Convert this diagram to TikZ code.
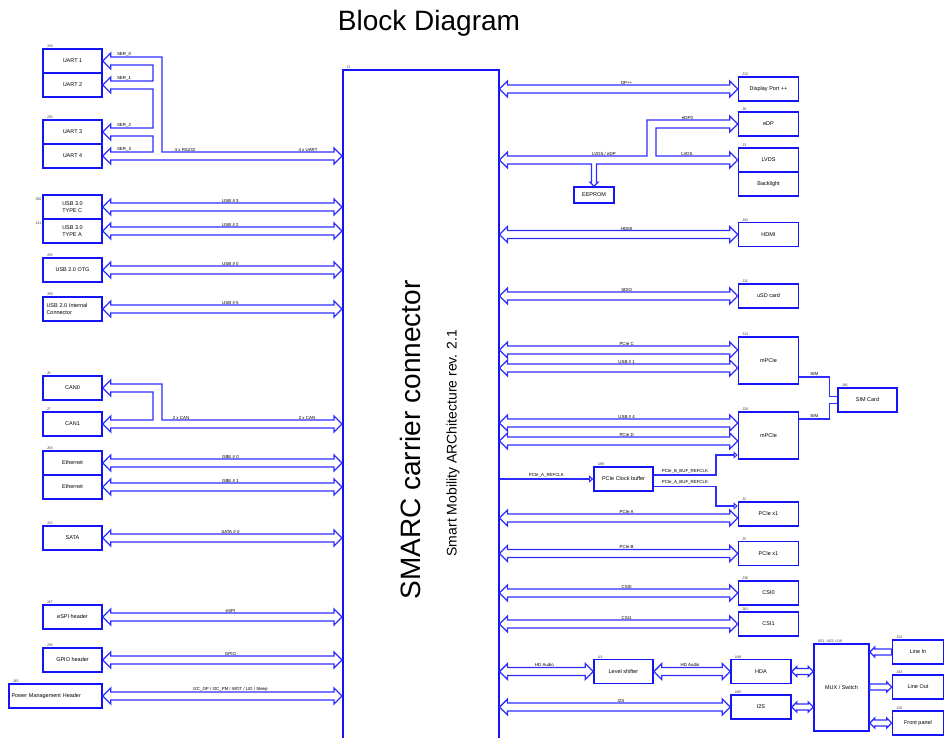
\documentclass[tikz,border=0pt]{standalone}
\usepackage{fontspec}
\setmainfont{Liberation Sans}
\usepackage{tikz}
\usetikzlibrary{arrows.meta,calc}

\definecolor{boxblue}{RGB}{20,20,245}
\definecolor{busblue}{RGB}{45,45,255}

% hollow bus arrows (picture uses x=1pt, y=-1pt)
\newcommand{\dbus}[4][8pt]{%
  \coordinate (bl) at (#2); \coordinate (br) at (#3);
  \draw[busline] (bl) -- ++(8,-8) -- ++(0,4) -- ($(br)+(-8,-4)$) -- ++(0,-4) -- (br)
    -- ++(-8,8) -- ++(0,-4) -- ($(bl)+(8,4)$) -- ++(0,4) -- cycle;
  \path (bl) -- (br) node[buslabel, midway, above=4pt, xshift=#1] {#4};}
\newcommand{\sbus}[2]{%
  \coordinate (bl) at (#1); \coordinate (br) at (#2);
  \draw[busline] (bl) -- ++(5,-5) -- ++(0,2) -- ($(br)+(-5,-3)$) -- ++(0,-2) -- (br)
    -- ++(-5,5) -- ++(0,-2) -- ($(bl)+(5,3)$) -- ++(0,2) -- cycle;}
\newcommand{\sbusl}[2]{%
  \coordinate (bl) at (#1); \coordinate (br) at (#2);
  \draw[busline] (bl) -- ++(5,-5) -- ++(0,2) -- ($(br)+(0,-3)$) -- ++(0,6)
    -- ($(bl)+(5,3)$) -- ++(0,2) -- cycle;}
\newcommand{\sbusr}[2]{%
  \coordinate (bl) at (#1); \coordinate (br) at (#2);
  \draw[busline] ($(bl)+(0,-3)$) -- ($(br)+(-5,-3)$) -- ++(0,-2) -- (br)
    -- ++(-5,5) -- ++(0,-2) -- ($(bl)+(0,3)$) -- cycle;}

\begin{document}
\begin{tikzpicture}[
  x=1pt, y=-1pt,
  box/.style={draw=boxblue, line width=1.7pt, minimum width=59pt, minimum height=24pt, align=center, inner sep=1pt, font=\fontsize{5.5}{6.6}\selectfont},
  rbox/.style={box, minimum width=60pt},
  desfont/.style={font=\fontsize{3.7}{4.2}\selectfont, text=black!75},
  des/.style={label={[desfont, anchor=south west, xshift=4pt, inner sep=0.4pt]north west:#1}},
  desl/.style={label={[desfont, anchor=north east, yshift=-3.5pt, inner sep=0.4pt]north west:#1}},
  busline/.style={draw=busblue, line width=1.25pt, line join=miter},
  buslabel/.style={font=\fontsize{4.4}{5}\selectfont, inner sep=0.3pt},
  wire/.style={draw=busblue, line width=1.2pt},
  clk/.style={wire, -{Triangle[open, length=4pt, width=7pt]}}
]
\useasboundingbox (0,0) rectangle (944,738);
\node[font=\fontsize{28}{32}\selectfont, anchor=base] (title) at (429,31) {Block Diagram};

\node[draw=boxblue, line width=1.6pt, minimum width=156pt, minimum height=700pt, inner sep=0pt, anchor=north west, des=J1] (smarc) at (342,69) {};
\node[rotate=90, font=\fontsize{28}{32}\selectfont] (smarctitle) at (410,440) {SMARC carrier connector};
\node[rotate=90, font=\fontsize{14}{16}\selectfont] (smarcsub) at (453,443) {Smart Mobility ARChitecture rev. 2.1};

\node[box, des=J29] (uart1) at (72.5,61) {UART 1};
\node[box] (uart2) at (72.5,85) {UART 2};
\node[box, des=J30] (uart3) at (72.5,132) {UART 3};
\node[box] (uart4) at (72.5,156) {UART 4};
\node[box, align=left, desl=J56] (usbc) at (72.5,207) {USB 3.0\\TYPE C};
\node[box, align=left, desl=J41] (usba) at (72.5,231) {USB 3.0\\TYPE A};
\node[box, des=J50] (otg) at (72.5,270) {USB 2.0 OTG};
\node[box, align=left, text width=52pt, des=J59] (usbint) at (72.5,309) {USB 2.0 Internal\\Connector};
\node[box, des=J6] (can0) at (72.5,388) {CAN0};
\node[box, des=J7] (can1) at (72.5,424) {CAN1};
\node[box, des=J63] (eth0) at (72.5,463) {Ethernet};
\node[box] (eth1) at (72.5,487) {Ethernet};
\node[box, des=J22] (sata) at (72.5,538) {SATA};
\node[box, des=J47] (espi) at (72.5,617) {eSPI header};
\node[box, des=J38] (gpio) at (72.5,660) {GPIO header};
\node[box, minimum width=93pt, text width=88pt, align=left, des=J45] (pmh) at (55.5,696) {Power Management Header};

\node[rbox, des=J12] (dp) at (768.5,89) {Display Port ++};
\node[rbox, des=J8] (edp) at (768.5,124) {eDP};
\node[rbox, des=J3] (lvds) at (768.5,160) {LVDS};
\node[rbox] (backlight) at (768.5,184) {Backlight};
\node[box, minimum width=40pt, minimum height=16pt, line width=1.3pt] (eeprom) at (594,195) {EEPROM};
\node[rbox, des=J42] (hdmi) at (768.5,234.5) {HDMI};
\node[rbox, des=J11] (usd) at (768.5,296) {uSD card};
\node[rbox, minimum height=47pt, des=J13] (mpcie1) at (768.5,360.5) {mPCIe};
\node[rbox, minimum height=47pt, des=J26] (mpcie2) at (768.5,435.5) {mPCIe};
\node[box, des=J46] (sim) at (867.5,400) {SIM Card};
\node[box, des=U85] (clkbuf) at (623.5,479) {PCIe Clock buffer};
\node[rbox, des=J2] (pcie1) at (768.5,514) {PCIe x1};
\node[rbox, des=J5] (pcie2) at (768.5,553.5) {PCIe x1};
\node[rbox, des=J36] (csi0) at (768.5,593) {CSI0};
\node[rbox, des=J61] (csi1) at (768.5,624) {CSI1};
\node[box, des=U1] (lvlshift) at (623.5,671.5) {Level shifter};
\node[rbox, des=U48] (hda) at (761,671.5) {HDA};
\node[rbox, des=U60] (i2s) at (761,707) {I2S};
\node[box, minimum width=55pt, minimum height=87pt, des={U51, U52, U18}] (mux) at (841.5,687.5) {MUX / Switch};
\node[box, minimum width=51pt, des=J24] (linein) at (918,652) {Line In};
\node[box, minimum width=51pt, des=J43] (lineout) at (918,687) {Line Out};
\node[box, minimum width=51pt, des=J10] (front) at (918,723) {Front panel};

\draw[busline] (smarc.west |- uart4.east) -- ++(-8,-8) -- ++(0,4) -| (162,57)
  -- ($(uart1.east)+(8,-4)$) -- ++(0,-4) -- (uart1.east) -- ++(8,8) -- ++(0,-4) -| (153,81)
  -- ($(uart2.east)+(8,-4)$) -- ++(0,-4) -- (uart2.east) -- ++(8,8) -- ++(0,-4) -| (153,128)
  -- ($(uart3.east)+(8,-4)$) -- ++(0,-4) -- (uart3.east) -- ++(8,8) -- ++(0,-4) -| (153,152)
  -- ($(uart4.east)+(8,-4)$) -- ++(0,-4) -- (uart4.east) -- ++(8,8) -- ++(0,-4)
  -- ($(smarc.west |- uart4.east)+(-8,4)$) -- ++(0,4) -- cycle;
\node[buslabel, anchor=south] (ser0) at (124,56.7) {SER\_0};
\node[buslabel, anchor=south] (ser1) at (124,80.7) {SER\_1};
\node[buslabel, anchor=south] (ser2) at (124,127.7) {SER\_2};
\node[buslabel, anchor=south] (ser3) at (124,151.7) {SER\_3};
\node[buslabel, anchor=south] (rs232) at (185,151.7) {4 x RS232};
\node[buslabel, anchor=south] (uartx) at (308,151.7) {4 x UART};

\dbus{usbc.east}{smarc.west |- usbc.east}{USB \# 3}
\dbus{usba.east}{smarc.west |- usba.east}{USB \# 2}
\dbus{otg.east}{smarc.west |- otg.east}{USB \# 0}
\dbus{usbint.east}{smarc.west |- usbint.east}{USB \# 5}

\draw[busline] (smarc.west |- can1.east) -- ++(-8,-8) -- ++(0,4) -| (162,384)
  -- ($(can0.east)+(8,-4)$) -- ++(0,-4) -- (can0.east) -- ++(8,8) -- ++(0,-4) -| (153,420)
  -- ($(can1.east)+(8,-4)$) -- ++(0,-4) -- (can1.east) -- ++(8,8) -- ++(0,-4)
  -- ($(smarc.west |- can1.east)+(-8,4)$) -- ++(0,4) -- cycle;
\node[buslabel, anchor=south] (canl) at (181,419.7) {2 x CAN};
\node[buslabel, anchor=south] (canr) at (307,419.7) {2 x CAN};

\dbus{eth0.east}{smarc.west |- eth0.east}{GBE \# 0}
\dbus{eth1.east}{smarc.west |- eth1.east}{GBE \# 1}
\dbus{sata.east}{smarc.west |- sata.east}{SATA \# 0}
\dbus{espi.east}{smarc.west |- espi.east}{eSPI}
\dbus{gpio.east}{smarc.west |- gpio.east}{GPIO}
\dbus{pmh.east}{smarc.west |- pmh.east}{I2C\_GP / I2C\_PM / WDT / LID / Sleep}

\dbus{smarc.east |- dp.west}{dp.west}{DP++}
\draw[busline] (smarc.east |- lvds.west) -- ++(8,-8) -- ++(0,4) -| (647,120)
  -- ($(edp.west)+(-8,-4)$) -- ++(0,-4) -- (edp.west) -- ++(-8,8) -- ++(0,-4) -| (656,156)
  -- ($(lvds.west)+(-8,-4)$) -- ++(0,-4) -- (lvds.west) -- ++(-8,8) -- ++(0,-4)
  -- ($(eeprom.north |- lvds.west)+(2.5,4)$) -- ($(eeprom.north)+(2.5,-4)$) -- ++(1.5,0) -- (eeprom.north) -- ++(-4,-4) -- ++(1.5,0)
  -- ($(eeprom.north |- lvds.west)+(-2.5,4)$) -- ($(smarc.east |- lvds.west)+(8,4)$) -- ++(0,4) -- cycle;
\node[buslabel, anchor=south] (edp0) at (687.5,119.7) {eDP0};
\node[buslabel, anchor=south] (lvdsedp) at (604,155.7) {LVDS / eDP};
\node[buslabel, anchor=south] (lvdsl) at (687,155.7) {LVDS};

\dbus{smarc.east |- hdmi.west}{hdmi.west}{HDMI}
\dbus{smarc.east |- usd.west}{usd.west}{SDIO}
\dbus{$(smarc.east |- mpcie1.west)+(0,-10.5)$}{$(mpcie1.west)+(0,-10.5)$}{PCIe C}
\dbus{$(smarc.east |- mpcie1.west)+(0,7.5)$}{$(mpcie1.west)+(0,7.5)$}{USB \# 1}
\dbus{$(smarc.east |- mpcie2.west)+(0,-12.5)$}{$(mpcie2.west)+(0,-12.5)$}{USB \# 4}
\dbus{$(smarc.east |- mpcie2.west)+(0,5.5)$}{$(mpcie2.west)+(0,5.5)$}{PCIe D}
\draw[wire] ($(mpcie1.east)+(0,16.5)$) -| ($(sim.west)+(-8,-3.5)$) node[buslabel, pos=0.25, above=0.5pt] (sim1) {SIM} -- ($(sim.west)+(0,-3.5)$);
\draw[wire] ($(mpcie2.east)+(0,-16.5)$) -| ($(sim.west)+(-8,3.5)$) node[buslabel, pos=0.25, above=0.5pt] (sim2) {SIM} -- ($(sim.west)+(0,3.5)$);

\draw[clk] (smarc.east |- clkbuf.west) -- (clkbuf.west) node[buslabel, midway, above=0.8pt] (refclk) {PCIe\_A\_REFCLK};
\draw[clk] ($(clkbuf.east)+(0,-4)$) -- (716,475) node[buslabel, midway, above=0.8pt] (bclk) {PCIe\_B\_BUF\_REFCLK} |- ($(mpcie2.west)+(0,19.5)$);
\draw[clk] ($(clkbuf.east)+(0,7.5)$) -- (716,486.5) node[buslabel, midway, above=0.8pt] (aclk) {PCIe\_A\_BUF\_REFCLK} |- ($(pcie1.west)+(0,-8)$);
\dbus{$(smarc.east |- pcie1.west)+(0,4)$}{$(pcie1.west)+(0,4)$}{PCIe A}
\dbus{smarc.east |- pcie2.west}{pcie2.west}{PCIe B}
\dbus{smarc.east |- csi0.west}{csi0.west}{CSI0}
\dbus{smarc.east |- csi1.west}{csi1.west}{CSI1}

\dbus[-2pt]{smarc.east |- lvlshift.west}{lvlshift.west}{HD Audio}
\dbus[-2pt]{lvlshift.east}{hda.west}{HD Audio}
\dbus[6pt]{smarc.east |- i2s.west}{i2s.west}{I2S}
\sbus{hda.east}{mux.west |- hda.east}
\sbus{i2s.east}{mux.west |- i2s.east}
\sbusl{mux.east |- linein.west}{linein.west}
\sbusr{mux.east |- lineout.west}{lineout.west}
\sbus{mux.east |- front.west}{front.west}
\end{tikzpicture}
\end{document}
